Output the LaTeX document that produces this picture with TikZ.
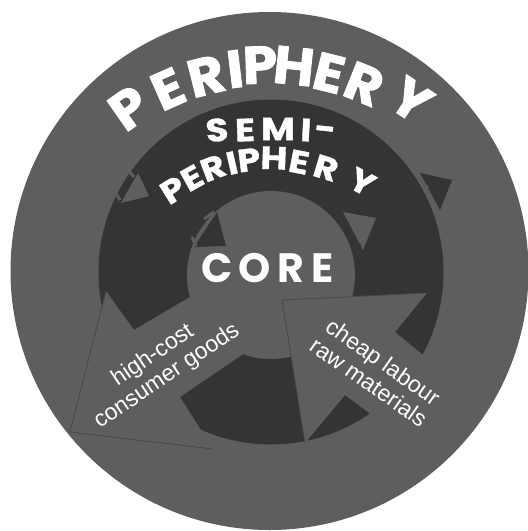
\documentclass[tikz,border=0pt]{standalone}
\usepackage{fontspec}
\setmainfont{Liberation Sans}
\newfontfamily\capsfont{Poppins}[FakeStretch=1.15,FakeBold=1.2]
\newfontfamily\topfont{Poppins}[FakeStretch=1.05,FakeBold=1.6]
\newfontfamily\corefont{Poppins}
\definecolor{pgray}{HTML}{5E5E5E}
\definecolor{sdark}{HTML}{343434}
\definecolor{aline}{HTML}{474747}
\begin{document}
\begin{tikzpicture}[x=1pt,y=-1pt,
  bigcap/.style={text=white,font=\topfont\bfseries\fontsize{53}{53}\selectfont,inner sep=0pt,anchor=center},
  midcap/.style={text=white,font=\capsfont\bfseries\fontsize{32}{32}\selectfont,inner sep=0pt,anchor=center},
  corecap/.style={text=white,font=\corefont\bfseries\fontsize{41}{41}\selectfont,inner sep=0pt,anchor=center},
  flowtxt/.style={text=white,font=\fontsize{23}{25}\selectfont,align=center,inner sep=0pt},
  graytip/.style={fill=pgray},
  darktip/.style={fill=sdark},
  graysliver/.style={draw=pgray,line width=3pt},
  darksliver/.style={draw=sdark,line width=3pt},
  bigarrow/.style={fill=pgray},
  bigedge/.style={draw=aline,line width=0.8pt,line join=miter}]
\useasboundingbox (0,0) rectangle (528,531);
\clip (0,0) rectangle (528,531);
% zones
\fill[pgray] (269.5,271) circle[radius=259];
\fill[sdark] (271,272) circle[radius=172.5];
\fill[pgray] (271,275) circle[radius=84];
% small arrowheads
\fill[graytip] (138,173) -- (149,196) -- (121,203) -- cycle;
\draw[graysliver] (127,169) -- (134,177);
\draw[graysliver] (115,192) -- (120,200);
\fill[darktip] (217,212) -- (226,246) -- (194,247) -- cycle;
\draw[graysliver] (204,219) -- (214,212);
\draw[graysliver] (192,237) -- (196,246);
\fill[graytip] (343,212) -- (376,218) -- (363,250) -- cycle;
\draw[darksliver] (345,221) -- (350,228);
\draw[darksliver] (354,240) -- (360,246);
\fill[darktip] (420,173) -- (452,180) -- (440,210) -- cycle;
\draw[graysliver] (422,182) -- (428,188);
\draw[graysliver] (431,201) -- (436,206);
% big arrows
\coordinate (lt) at (70,432);
\coordinate (lb1) at (106,291);
\coordinate (ln1) at (134,330);
\coordinate (ls1) at (205,288);
\coordinate (ls2) at (255,346);
\coordinate (ln2) at (180,397);
\coordinate (lb2) at (213,449);
\fill[bigarrow] (lt) -- (lb1) -- (ln1) -- (ls1) -- (ls2) -- (ln2) -- (lb2) -- cycle;
\draw[bigedge] (lb1) -- (lt) -- (lb2);
\coordinate (rt) at (282,300);
\coordinate (rb1) at (427,293);
\coordinate (rn1) at (395,332);
\coordinate (rs1) at (457,383);
\coordinate (rs2) at (412,445);
\coordinate (rn2) at (345,395);
\coordinate (rb2) at (305,443);
\fill[bigarrow] (rt) -- (rb1) -- (rn1) -- (rs1) -- (rs2) -- (rn2) -- (rb2) -- cycle;
\draw[bigedge] (rb1) -- (rt) -- (rb2);
% PERIPHERY
\node[bigcap,rotate=35] (p1) at (129,108) {P};
\node[bigcap,rotate=24] (p2) at (168,89) {E};
\node[bigcap,rotate=14] (p3) at (206,76) {R};
\node[bigcap,rotate=7] (p4) at (235,69) {I};
\node[bigcap,rotate=2] (p5) at (260,65) {P};
\node[bigcap,rotate=-6] (p6) at (294,66) {H};
\node[bigcap,rotate=-14] (p7) at (329,73) {E};
\node[bigcap,rotate=-22] (p8) at (364,84) {R};
\node[bigcap,rotate=-34] (p9) at (411,100) {Y};
% SEMI-
\node[midcap,rotate=5] (s1) at (217,130) {S};
\node[midcap,rotate=2] (s2) at (245,130) {E};
\node[midcap,rotate=0] (s3) at (278,129) {M};
\node[midcap,rotate=-3] (s4) at (306,130) {I};
\node[midcap,rotate=-6] (s5) at (325,133) {-};
% PERIPHERY (semi)
\node[midcap,rotate=32] (q1) at (173,190) {P};
\node[midcap,rotate=29] (q2) at (192,178) {E};
\node[midcap,rotate=21] (q3) at (213,168) {R};
\node[midcap,rotate=13] (q4) at (232,163) {I};
\node[midcap,rotate=7] (q5) at (249,160) {P};
\node[midcap,rotate=-2] (q6) at (274,158) {H};
\node[midcap,rotate=-11] (q7) at (299,162) {E};
\node[midcap,rotate=-17] (q8) at (326,168) {R};
\node[midcap,rotate=-28] (q9) at (362,182) {Y};
% CORE
\node[corecap] (c1) at (217,268) {C};
\node[corecap] (c2) at (255,268) {O};
\node[corecap] (c3) at (291,268) {R};
\node[corecap] (c4) at (323,268) {E};
% flows
\node[flowtxt,rotate=34] (goods) at (160,366) {high-cost\\consumer goods};
\node[flowtxt,rotate=-35] (labour) at (376,372) {cheap labour\\raw materials};
\end{tikzpicture}
\end{document}
